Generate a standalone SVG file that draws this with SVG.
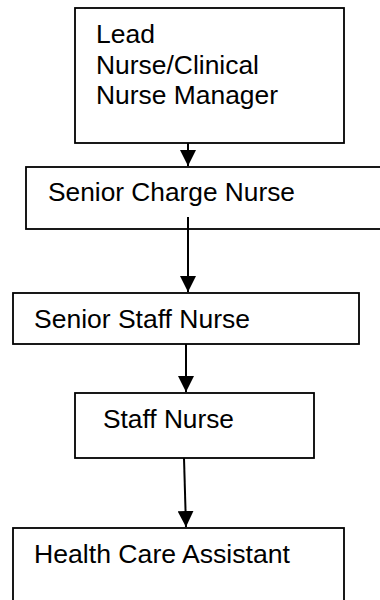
<svg xmlns="http://www.w3.org/2000/svg" width="380" height="600" viewBox="0 0 380 600">
<style>
.box{fill:#fff;stroke:#000;stroke-width:1.8}
.t{font-family:"Liberation Sans",Arial,sans-serif;font-size:25px;fill:#000}
.c{stroke:#000;stroke-width:2;fill:none}
</style>
<defs>
<marker id="ah" markerWidth="8" markerHeight="8" refX="8" refY="4" orient="auto" markerUnits="strokeWidth">
<path d="M0,0 L8,4 L0,8 Z" fill="#000"/>
</marker>
</defs>
<rect width="380" height="600" fill="#fff"/>
<g id="n1">
<rect class="box" x="75" y="8" width="269" height="135"/>
<text class="t" x="96" y="43" textLength="59" lengthAdjust="spacingAndGlyphs">Lead</text>
<text class="t" x="96" y="74" textLength="163" lengthAdjust="spacingAndGlyphs">Nurse/Clinical</text>
<text class="t" x="96" y="104" textLength="182" lengthAdjust="spacingAndGlyphs">Nurse Manager</text>
</g>
<g id="n2">
<rect class="box" x="26" y="167" width="370" height="62"/>
<text class="t" x="48" y="201" textLength="247" lengthAdjust="spacingAndGlyphs">Senior Charge Nurse</text>
</g>
<g id="n3">
<rect class="box" x="13" y="293" width="346" height="51"/>
<text class="t" x="34" y="328" textLength="216" lengthAdjust="spacingAndGlyphs">Senior Staff Nurse</text>
</g>
<g id="n4">
<rect class="box" x="75" y="393" width="239" height="65"/>
<text class="t" x="103" y="428" textLength="131" lengthAdjust="spacingAndGlyphs">Staff Nurse</text>
</g>
<g id="n5">
<rect class="box" x="13" y="528" width="331" height="90"/>
<text class="t" x="34" y="563" textLength="256" lengthAdjust="spacingAndGlyphs">Health Care Assistant</text>
</g>
<g id="connectors">
<line class="c" x1="188" y1="143" x2="188" y2="166" marker-end="url(#ah)"/>
<line class="c" x1="188" y1="217" x2="188" y2="292" marker-end="url(#ah)"/>
<line class="c" x1="186" y1="344" x2="186" y2="392" marker-end="url(#ah)"/>
<line class="c" x1="184" y1="458" x2="186" y2="527" marker-end="url(#ah)"/>
</g>
</svg>
